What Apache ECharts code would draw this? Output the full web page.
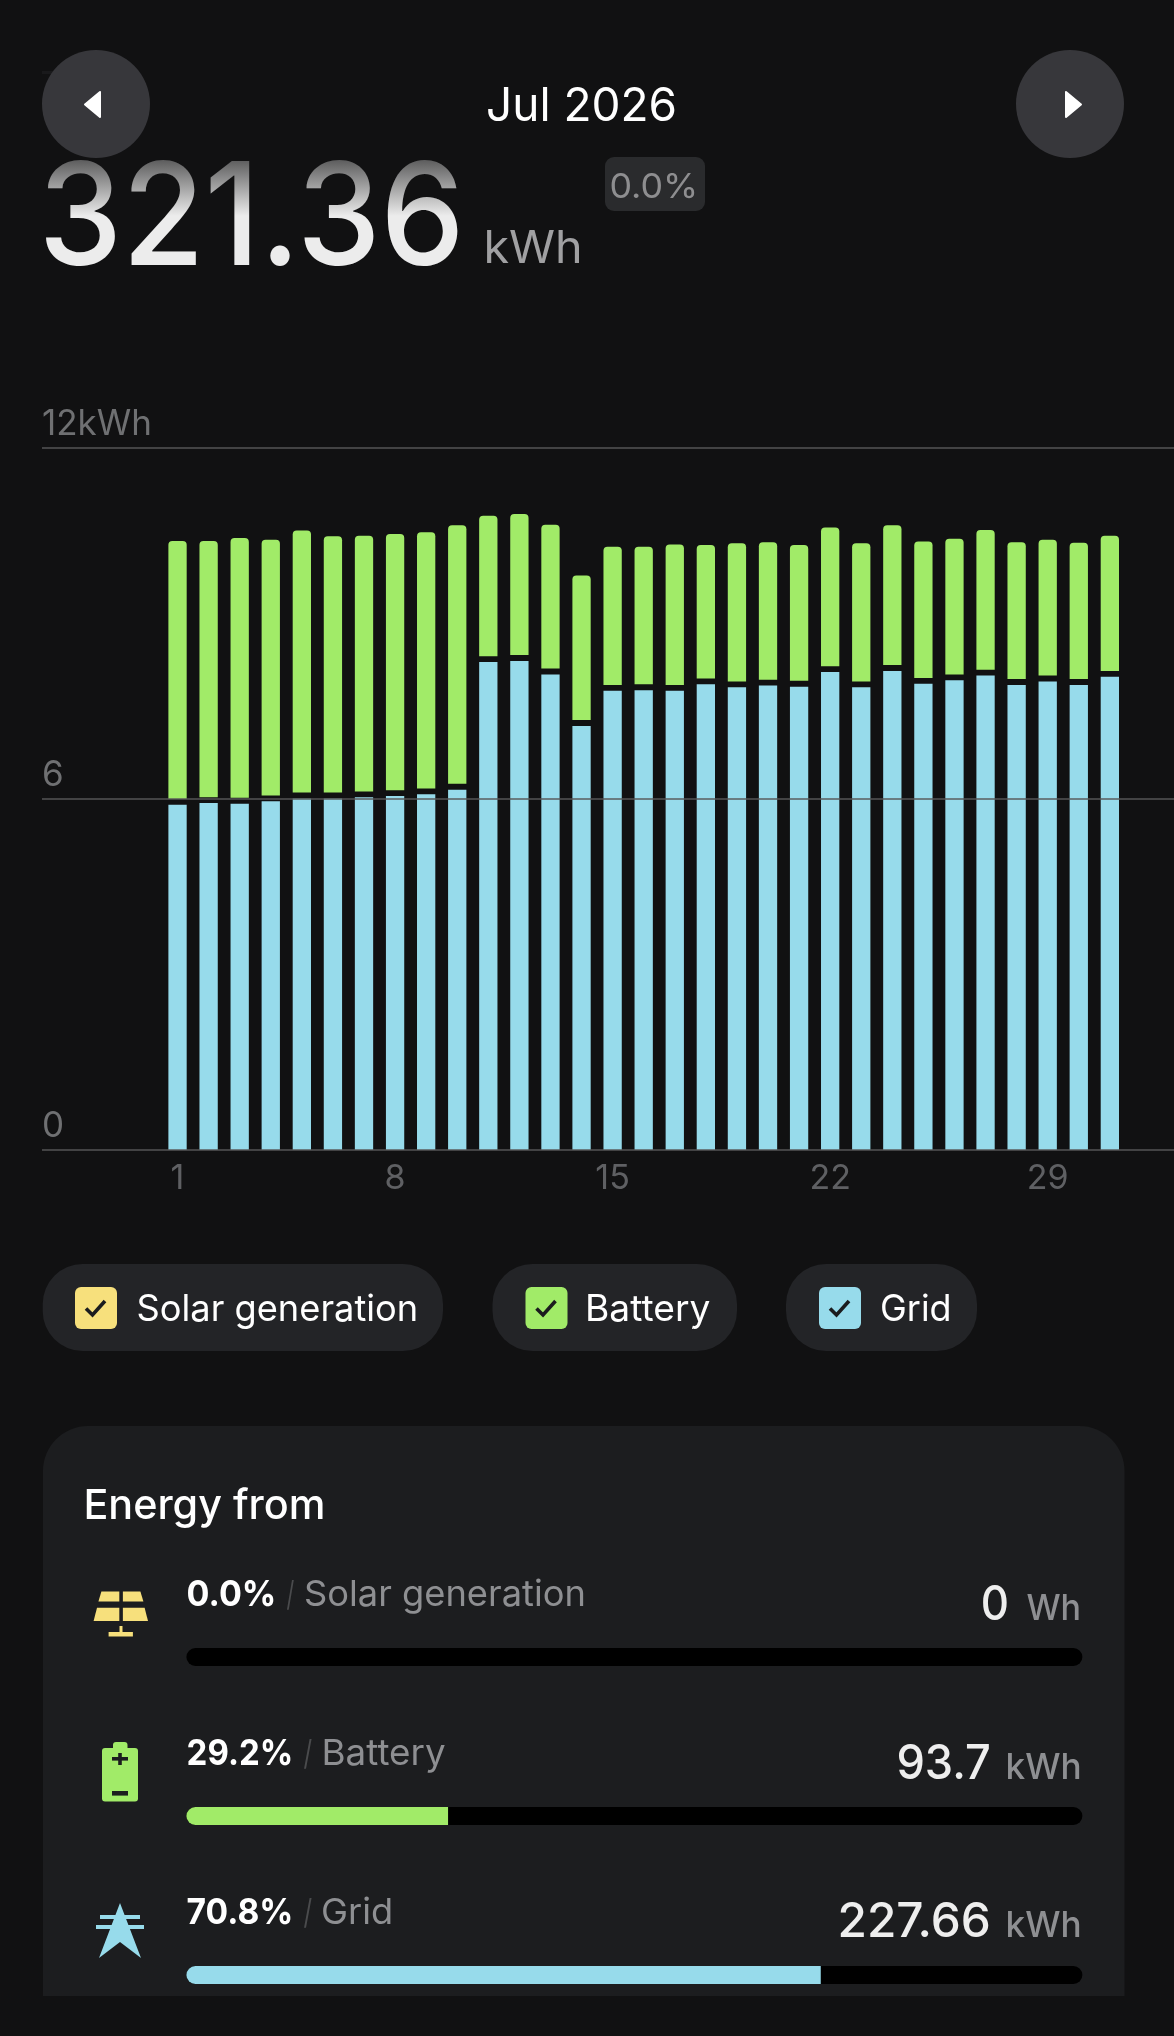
<!DOCTYPE html>
<html><head><meta charset="utf-8">
<style>html,body{margin:0;padding:0;background:#111112;overflow:hidden}#c{width:1174px;height:2036px}</style>
<script src="https://cdn.jsdelivr.net/npm/echarts@6/dist/echarts.min.js"></script>
</head><body><div id="c"></div>
<script>
const days = Array.from({length:31},(_,i)=>String(i+1));
const solarValues = [0,0,0,0,0,0,0,0,0,0,0,0,0,0,0,0,0,0,0,0,0,0,0,0,0,0,0,0,0,0,0];
const gridValues = [5.90,5.93,5.92,5.96,6.01,6.01,6.03,6.05,6.08,6.16,8.34,8.36,8.13,7.25,7.85,7.86,7.85,7.96,7.91,7.94,7.92,8.17,7.91,8.19,7.97,8.03,8.11,7.95,8.01,7.95,8.09];
const spacerValues = [.1,.1,.1,.1,.1,.1,.1,.1,.1,.1,.1,.1,.1,.1,.1,.1,.1,.1,.1,.1,.1,.1,.1,.1,.1,.1,.1,.1,.1,.1,.1];
const batteryValues = [4.41,4.38,4.44,4.37,4.48,4.38,4.37,4.38,4.38,4.42,2.40,2.41,2.46,2.47,2.36,2.35,2.40,2.28,2.36,2.35,2.32,2.37,2.36,2.39,2.33,2.32,2.39,2.34,2.32,2.33,2.31];
const shareNames = ['Solar generation','Battery','Grid'];
const shareValues = [0.0,29.2,70.8];
const yTicks = {0:'0',6:'6',12:'12kWh'};

const BG='#111112',CARD='#1c1d1f',PILL='#232427',YEL='#f7e07c',GRN='#a1eb68',BLU='#97dbeb';
const FONT='Inter, sans-serif';
const mctx=document.createElement('canvas').getContext('2d');
const gfx=[];
function txt(str,left,right,base,size,fill,weight){
  const font=`${weight||400} ${size}px ${FONT}`;
  mctx.font=font;
  const m=mctx.measureText(str);
  const ink=m.actualBoundingBoxLeft+m.actualBoundingBoxRight;
  const sx=(right-left)/ink;
  gfx.push({type:'text',z:5,x:left+m.actualBoundingBoxLeft*sx,y:base-0.285*size,scaleX:sx,silent:true,
    style:{text:str,x:0,y:0,font,fill,align:'left',verticalAlign:'middle'}});
}
function rect(x,y,w,h,r,fill,z){gfx.push({type:'rect',z:z||1,silent:true,shape:{x,y,width:w,height:h,r},style:{fill}});}
function poly(points,fill,z){gfx.push({type:'polygon',z:z||4,silent:true,shape:{points},style:{fill}});}

// nav buttons
rect(42,71,12,3,0,'#19191b',0);
gfx.push({type:'circle',z:1,silent:true,shape:{cx:96,cy:104,r:54},style:{fill:'#37373b'}});
gfx.push({type:'circle',z:1,silent:true,shape:{cx:1070,cy:104,r:54},style:{fill:'#37373b'}});
gfx.push({type:'polygon',z:4,silent:true,shape:{points:[[100,92],[100,117],[85,104.5]]},style:{fill:'#fff',stroke:'#fff',lineWidth:2,lineJoin:'round'}});
gfx.push({type:'polygon',z:4,silent:true,shape:{points:[[1066,92],[1066,117],[1081,104.5]]},style:{fill:'#fff',stroke:'#fff',lineWidth:2,lineJoin:'round'}});
txt('Jul 2026',488,675,120,47,'#ffffff',400);

// headline: light text, with a background-coloured fade laid over its upper half
txt('321.36',46,458,263,143,'#ececec',500);
gfx.push({type:'rect',z:6,silent:true,shape:{x:40,y:158,width:430,height:58},
  style:{fill:new echarts.graphic.LinearGradient(0,0,0,1,[{offset:0,color:'rgba(17,17,18,0.68)'},{offset:1,color:'rgba(17,17,18,0)'}])}});
txt('kWh',486.5,580,262,45,'#a0a0a2',400);
rect(605,157,100,54,9,'#2a2b2d');
txt('0.0%',611.5,694.6,197,34,'#8e8e90',400);

// legend
[[42.7,443,75,'Solar generation',138.5,415.4,YEL],[492.5,737,525.5,'Battery',588,709.6,GRN],[786,977,819,'Grid',882,949,BLU]].forEach(l=>{
  rect(l[0],1264,l[1]-l[0],87,40,PILL);
  rect(l[2],1287,42,42,6,l[6],2);
  gfx.push({type:'polyline',z:4,silent:true,shape:{points:[[l[2]+11,1308.5],[l[2]+17.5,1315],[l[2]+30,1301]]},style:{stroke:'#1b1c1e',lineWidth:3.6,fill:null}});
  txt(l[3],l[4],l[5],1320,37,'#ffffff',400);
});

// card
gfx.push({type:'rect',z:0,silent:true,shape:{x:43,y:1426,width:1081.5,height:570,r:[45,45,0,0]},style:{fill:CARD}});
txt('Energy from',86.4,323,1518.5,41,'#ffffff',500);
// row 1
txt('0.0%',187.5,274,1605,36,'#ffffff',700);
txt('/',286.4,294,1605,34,'#4a4b4d',400);
txt('Solar generation',306,583.6,1605,36,'#8e8f92',400);
txt('0',982.5,1007.4,1619,47.5,'#eeeeee',500);
txt('Wh',1026.4,1079.5,1619,36,'#8e8f92',500);
// row 2
txt('29.2%',187.5,291,1764.3,36,'#ffffff',700);
txt('/',303.6,312,1764.3,34,'#4a4b4d',400);
txt('Battery',324.6,445.4,1764.3,36,'#8e8f92',400);
txt('93.7',898.3,989.8,1778,47.5,'#eeeeee',500);
txt('kWh',1007.4,1080,1778,36,'#8e8f92',500);
// row 3
txt('70.8%',187.5,291,1923.3,36,'#ffffff',700);
txt('/',303.6,312,1923.3,34,'#4a4b4d',400);
txt('Grid',323,391,1923.3,36,'#8e8f92',400);
txt('227.66',840.5,989,1936.7,47.5,'#eeeeee',500);
txt('kWh',1007.4,1080,1936.7,36,'#8e8f92',500);

// solar icon
poly([[101.4,1591.5],[119.3,1591.5],[119.3,1601.6],[98.4,1601.6]],YEL);
poly([[122.9,1591.5],[140.4,1591.5],[143.4,1601.6],[122.9,1601.6]],YEL);
poly([[97,1607.7],[119.3,1607.7],[119.3,1621],[93.6,1621]],YEL);
poly([[122.9,1607.7],[144.6,1607.7],[148,1621],[122.9,1621]],YEL);
rect(119.5,1626,3,7,0,YEL,4);
rect(108.6,1632,24.3,4.5,0,YEL,4);
// battery icon
rect(102,1748,36,53.6,3,GRN,3);
rect(113,1742,14.5,10,3,GRN,3);
rect(112,1757,16,3.6,0,CARD,4);
rect(118.2,1753,3.6,12,0,CARD,4);
rect(112,1791,16,4.6,0,CARD,4);
// grid icon
poly([[120,1903],[141,1958],[120,1942],[99,1958]],BLU);
rect(100,1915,40,4,0,BLU,4);
rect(96,1925,48,4,0,BLU,4);

const chart=echarts.init(document.getElementById('c'),null,{width:1174,height:2036});
const hidden={show:false};
chart.setOption({
  backgroundColor:BG,
  animation:false,
  grid:[
    {left:42,width:1132,top:448,height:702,containLabel:false},
    {left:162,width:963.4,top:448,height:702,containLabel:false},
    {left:186.4,width:896,top:1657,height:318,containLabel:false}
  ],
  xAxis:[
    {gridIndex:0,type:'value',min:0,max:1,show:false},
    {gridIndex:1,type:'category',data:days,boundaryGap:true,
      axisLine:hidden,axisTick:hidden,splitLine:hidden,
      axisLabel:{show:true,interval:6,color:'#5f6063',fontFamily:FONT,fontSize:34,margin:12}},
    {gridIndex:2,type:'value',min:0,max:100,show:false}
  ],
  yAxis:[
    {gridIndex:0,type:'value',min:0,max:12,interval:6,z:3,
      axisLine:hidden,axisTick:hidden,
      splitLine:{show:true,lineStyle:{color:'rgba(88,88,88,0.72)',width:2}},
      axisLabel:{show:true,inside:true,margin:0,color:'#6f7072',fontFamily:FONT,fontSize:35,align:'left',verticalAlign:'bottom',padding:[0,0,6,0],formatter:v=>yTicks[v]}},
    {gridIndex:1,type:'value',min:0,max:12,show:false},
    {gridIndex:2,type:'category',data:shareNames,inverse:true,boundaryGap:false,show:false}
  ],
  series:[
    {name:'Grid',type:'bar',xAxisIndex:1,yAxisIndex:1,stack:'e',barWidth:18.3,data:gridValues,itemStyle:{color:BLU},silent:true},
    {name:'gap',type:'bar',xAxisIndex:1,yAxisIndex:1,stack:'e',barWidth:18.3,data:spacerValues,itemStyle:{color:'rgba(0,0,0,0)'},silent:true},
    {name:'Battery',type:'bar',xAxisIndex:1,yAxisIndex:1,stack:'e',barWidth:18.3,data:batteryValues,itemStyle:{color:GRN,borderRadius:[4,4,0,0]},silent:true},
    {name:'Solar generation',type:'bar',xAxisIndex:1,yAxisIndex:1,stack:'e',barWidth:18.3,data:solarValues,itemStyle:{color:YEL},silent:true},
    {name:'Share',type:'bar',xAxisIndex:2,yAxisIndex:2,barWidth:18,showBackground:true,
      backgroundStyle:{color:'#000',borderRadius:9},
      itemStyle:{borderRadius:[9,0,0,9]},
      data:shareValues.map((v,i)=>({value:v,itemStyle:{color:[YEL,GRN,BLU][i]}})),silent:true}
  ],
  graphic:{elements:gfx}
});
</script></body></html>
